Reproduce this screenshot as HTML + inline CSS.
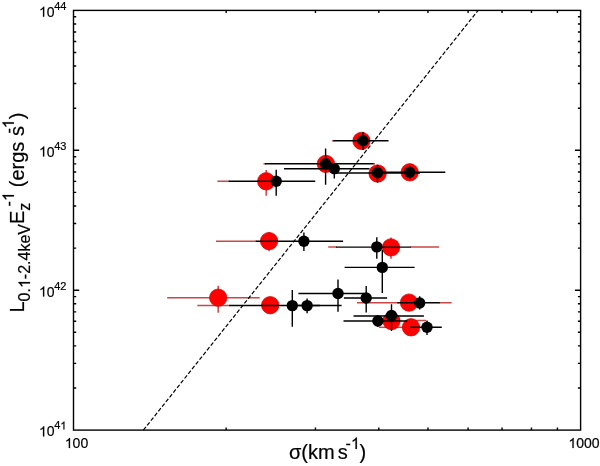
<!DOCTYPE html>
<html><head><meta charset="utf-8"><style>
html,body{margin:0;padding:0;background:#fff;width:600px;height:466px;overflow:hidden}
svg{display:block;will-change:transform}
text{font-family:"Liberation Sans",sans-serif;font-kerning:none;white-space:pre;stroke:#000;stroke-width:0.2px}
.g1{stroke:#000;stroke-width:0.2px}
</style></head><body>
<svg width="600" height="466" viewBox="0 0 600 466"><rect width="600" height="466" fill="#fff"/><g stroke="#000" stroke-width="1.4" fill="none"><rect x="73.5" y="10.4" width="507.1" height="419.70000000000005"/><path d="M73.5 387.99h2.7M580.6 387.99h-2.7M73.5 363.35h2.7M580.6 363.35h-2.7M73.5 345.87h2.7M580.6 345.87h-2.7M73.5 332.31h2.7M580.6 332.31h-2.7M73.5 321.24h2.7M580.6 321.24h-2.7M73.5 311.87h2.7M580.6 311.87h-2.7M73.5 303.76h2.7M580.6 303.76h-2.7M73.5 296.60h2.7M580.6 296.60h-2.7M73.5 290.20h5.7M580.6 290.20h-5.7M73.5 248.09h2.7M580.6 248.09h-2.7M73.5 223.45h2.7M580.6 223.45h-2.7M73.5 205.97h2.7M580.6 205.97h-2.7M73.5 192.41h2.7M580.6 192.41h-2.7M73.5 181.34h2.7M580.6 181.34h-2.7M73.5 171.97h2.7M580.6 171.97h-2.7M73.5 163.86h2.7M580.6 163.86h-2.7M73.5 156.70h2.7M580.6 156.70h-2.7M73.5 150.30h5.7M580.6 150.30h-5.7M73.5 108.19h2.7M580.6 108.19h-2.7M73.5 83.55h2.7M580.6 83.55h-2.7M73.5 66.07h2.7M580.6 66.07h-2.7M73.5 52.51h2.7M580.6 52.51h-2.7M73.5 41.44h2.7M580.6 41.44h-2.7M73.5 32.07h2.7M580.6 32.07h-2.7M73.5 23.96h2.7M580.6 23.96h-2.7M73.5 16.80h2.7M580.6 16.80h-2.7M226.15 430.1v-2.7M226.15 10.4v2.7M315.45 430.1v-2.7M315.45 10.4v2.7M378.80 430.1v-2.7M378.80 10.4v2.7M427.95 430.1v-2.7M427.95 10.4v2.7M468.10 430.1v-2.7M468.10 10.4v2.7M502.05 430.1v-2.7M502.05 10.4v2.7M531.46 430.1v-2.7M531.46 10.4v2.7M557.40 430.1v-2.7M557.40 10.4v2.7"/></g><g stroke="#c84848" stroke-width="1.5"><path d="M332.1 140.8H334.2"/><path d="M263.5 163.8H266.0M372.8 163.8H375.0"/><path d="M217.3 181.3H229.6M266.2 170V195.7"/><path d="M216.0 241.2H256.6M269.1 232V251.3"/><path d="M328.2 247.1H337.0M410.0 247.1H439.0M391.0 237.5V258.75"/><path d="M167.2 297.7H259.7M218.2 285.8V312.8"/><path d="M197.3 305.5H230.2"/><path d="M357.0 302.8H398.2M438.9 302.8H451.6"/><path d="M406.5 320.5H426.0"/><path d="M379.0 327.3H411.0"/></g><g fill="#ff0000" stroke="#d00000" stroke-width="0.7"><circle cx="361.5" cy="140.9" r="8.7"/><circle cx="325.9" cy="163.9" r="8.7"/><circle cx="377.6" cy="173.5" r="8.7"/><circle cx="409.7" cy="172.3" r="8.7"/><circle cx="266.2" cy="181.3" r="8.7"/><circle cx="269.1" cy="241.1" r="8.7"/><circle cx="391.0" cy="247.4" r="8.7"/><circle cx="218.2" cy="297.7" r="8.7"/><circle cx="270.2" cy="305.2" r="8.7"/><circle cx="409.0" cy="302.6" r="8.7"/><circle cx="391.5" cy="321.0" r="8.7"/><circle cx="411.0" cy="327.3" r="8.7"/></g><g stroke="#000000" stroke-width="1.4"><path d="M333.4 140.8H388.5M363.0 132V150"/><path d="M265.0 163.8H373.5M325.6 148.5V184.7"/><path d="M284.0 168.8H369.5M334.3 163V178.5"/><path d="M335.0 173.0H420.0M377.5 165V182.5"/><path d="M380.0 172.3H445.3M409.7 165.5V179.5"/><path d="M228.7 181.3H315.2M276.2 169.7V195.7"/><path d="M255.8 241.2H343.1M303.9 232.6V250.9"/><path d="M336.1 247.1H410.8M376.8 237.3V258.75"/><path d="M344.6 267.4H414.6M382.3 250.0V293.1"/><path d="M298.4 293.5H364.0M338.0 279.4V311.8"/><path d="M343.9 298.0H387.1M366.2 286.1V312.6"/><path d="M229.3 305.5H341.6M292.3 289.9V326.7"/><path d="M295.0 305.5H320.0M307.1 298.4V313.3"/><path d="M397.4 302.8H439.7M419.7 296.3V309.5"/><path d="M343.5 321.0H407.4M377.9 315V327"/><path d="M353.5 316.0H423.9M391.5 304.25V330.9"/><path d="M410.1 327.2H441.8M427.0 320.4V335"/></g><g fill="#000000"><circle cx="363.0" cy="140.8" r="5.7"/><circle cx="325.6" cy="163.7" r="5.7"/><circle cx="334.3" cy="168.8" r="5.7"/><circle cx="377.5" cy="172.8" r="5.7"/><circle cx="409.7" cy="172.3" r="5.7"/><circle cx="276.2" cy="181.3" r="5.7"/><circle cx="303.9" cy="241.2" r="5.7"/><circle cx="376.8" cy="246.9" r="5.7"/><circle cx="382.3" cy="267.4" r="5.7"/><circle cx="338.0" cy="293.5" r="5.7"/><circle cx="366.2" cy="298.0" r="5.7"/><circle cx="292.3" cy="305.6" r="5.7"/><circle cx="307.1" cy="305.6" r="5.7"/><circle cx="419.7" cy="303.0" r="5.7"/><circle cx="377.9" cy="321.0" r="5.7"/><circle cx="391.5" cy="315.5" r="5.7"/><circle cx="427.0" cy="327.2" r="5.7"/></g><path d="M143.4 430.1L478.1 10.4" stroke="#000" stroke-width="1.2" stroke-dasharray="4 2" fill="none"/><text x="39.00" y="16.70" font-size="14"> 0</text><path class="g1" d="M763 0H583V1147Q518 1085 412 1023T222 930V1104Q373 1175 486 1276T646 1472H763Z" vector-effect="non-scaling-stroke" transform="translate(39.00,16.70) scale(0.00684,-0.00684)"/><text x="54.20" y="9.70" font-size="11">44</text><text x="39.00" y="156.60" font-size="14"> 0</text><path class="g1" d="M763 0H583V1147Q518 1085 412 1023T222 930V1104Q373 1175 486 1276T646 1472H763Z" vector-effect="non-scaling-stroke" transform="translate(39.00,156.60) scale(0.00684,-0.00684)"/><text x="54.20" y="149.60" font-size="11">43</text><text x="39.00" y="296.50" font-size="14"> 0</text><path class="g1" d="M763 0H583V1147Q518 1085 412 1023T222 930V1104Q373 1175 486 1276T646 1472H763Z" vector-effect="non-scaling-stroke" transform="translate(39.00,296.50) scale(0.00684,-0.00684)"/><text x="54.20" y="289.50" font-size="11">42</text><text x="39.00" y="436.40" font-size="14"> 0</text><path class="g1" d="M763 0H583V1147Q518 1085 412 1023T222 930V1104Q373 1175 486 1276T646 1472H763Z" vector-effect="non-scaling-stroke" transform="translate(39.00,436.40) scale(0.00684,-0.00684)"/><text x="54.20" y="429.40" font-size="11">4 </text><path class="g1" d="M763 0H583V1147Q518 1085 412 1023T222 930V1104Q373 1175 486 1276T646 1472H763Z" vector-effect="non-scaling-stroke" transform="translate(60.32,429.40) scale(0.00537,-0.00537)"/><text x="64.82" y="448.00" font-size="14"> 00</text><path class="g1" d="M763 0H583V1147Q518 1085 412 1023T222 930V1104Q373 1175 486 1276T646 1472H763Z" vector-effect="non-scaling-stroke" transform="translate(64.82,448.00) scale(0.00684,-0.00684)"/><text x="568.43" y="448.00" font-size="14"> 000</text><path class="g1" d="M763 0H583V1147Q518 1085 412 1023T222 930V1104Q373 1175 486 1276T646 1472H763Z" vector-effect="non-scaling-stroke" transform="translate(568.43,448.00) scale(0.00684,-0.00684)"/><text x="289.00" y="459.00" font-size="20">σ(km</text><text x="337.66" y="459.00" font-size="20">s</text><text x="345.60" y="449.00" font-size="16">- </text><path class="g1" d="M763 0H583V1147Q518 1085 412 1023T222 930V1104Q373 1175 486 1276T646 1472H763Z" vector-effect="non-scaling-stroke" transform="translate(350.93,449.00) scale(0.00781,-0.00781)"/><text x="359.50" y="459.00" font-size="20">)</text><g transform="translate(24,312.5) rotate(-90)"><text x="0.00" y="0.00" font-size="20">L</text><text x="11.12" y="6.00" font-size="16">0. -2.4keV</text><path class="g1" d="M763 0H583V1147Q518 1085 412 1023T222 930V1104Q373 1175 486 1276T646 1472H763Z" vector-effect="non-scaling-stroke" transform="translate(24.47,6.00) scale(0.00781,-0.00781)"/><text x="88.51" y="0.00" font-size="20">E</text><text x="101.85" y="6.00" font-size="16">z</text><text x="106.10" y="-10.10" font-size="16">- </text><path class="g1" d="M763 0H583V1147Q518 1085 412 1023T222 930V1104Q373 1175 486 1276T646 1472H763Z" vector-effect="non-scaling-stroke" transform="translate(111.43,-10.10) scale(0.00781,-0.00781)"/><text x="125.30" y="0.00" font-size="20">(ergs s</text><text x="178.90" y="-10.10" font-size="16">- </text><path class="g1" d="M763 0H583V1147Q518 1085 412 1023T222 930V1104Q373 1175 486 1276T646 1472H763Z" vector-effect="non-scaling-stroke" transform="translate(184.23,-10.10) scale(0.00781,-0.00781)"/><text x="193.30" y="0.00" font-size="20">)</text></g></svg>
</body></html>
